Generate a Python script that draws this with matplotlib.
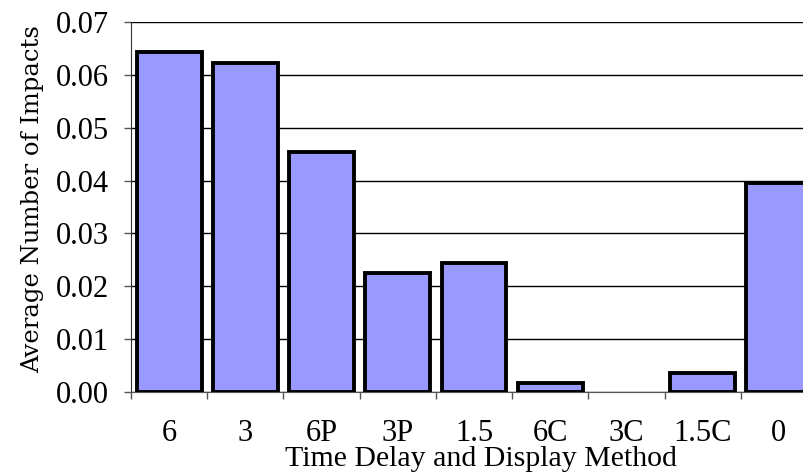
import matplotlib
matplotlib.use("Agg")
import matplotlib.pyplot as plt
import numpy as np

categories = ["6", "3", "6P", "3P", "1.5", "6C", "3C", "1.5C", "0"]
values = [0.0643, 0.0623, 0.0454, 0.0225, 0.0245, 0.0017, 0.0, 0.0036, 0.0395]
yticks = [0.00, 0.01, 0.02, 0.03, 0.04, 0.05, 0.06, 0.07]

W, H = 804, 476
fig = plt.figure(figsize=(W / 100, H / 100), dpi=100)
ax = fig.add_axes([131 / W, (H - 392) / H, (817 - 131) / W, (392 - 22) / H])

x = np.arange(len(categories))
for xi, v in zip(x, values):
    if v > 0:
        ax.bar(xi, v, width=0.85, color="#9999FF", edgecolor="black",
               linewidth=2.8, zorder=3)

ax.set_xlim(-0.5, len(categories) - 0.5)
ax.set_ylim(0, 0.07)
ax.set_yticks(yticks)
ax.set_yticklabels([f"{t:.2f}" for t in yticks])
ax.yaxis.grid(True, color="black", linewidth=1.0, zorder=1)
ax.set_axisbelow(True)

ax.set_xticks(x)
ax.set_xticklabels(categories)
ax.set_xticks(np.arange(-0.5, len(categories), 1.0), minor=True)
ax.tick_params(axis="x", which="major", length=0, pad=19.5)
ax.tick_params(axis="x", which="minor", length=5, width=1, color="#555555")
ax.tick_params(axis="y", which="major", length=5, width=1, color="#555555", pad=11)

for lab in ax.get_xticklabels() + ax.get_yticklabels():
    lab.set_fontfamily("Liberation Serif")
    lab.set_fontsize(22)

ax.spines["top"].set_visible(False)
ax.spines["right"].set_visible(False)
ax.spines["left"].set_color("#333333")
ax.spines["bottom"].set_color("#555555")

ax.set_xlabel("Time Delay and Display Method", fontfamily="Liberation Serif",
              fontsize=21.5)
ax.xaxis.set_label_coords(0.510, -0.145)
ax.set_ylabel("Average Number of Impacts", fontfamily="DejaVu Serif",
              fontsize=17.5)
ax.yaxis.set_label_coords(-0.127, 0.522)

fig.savefig("out.png", dpi=100)
